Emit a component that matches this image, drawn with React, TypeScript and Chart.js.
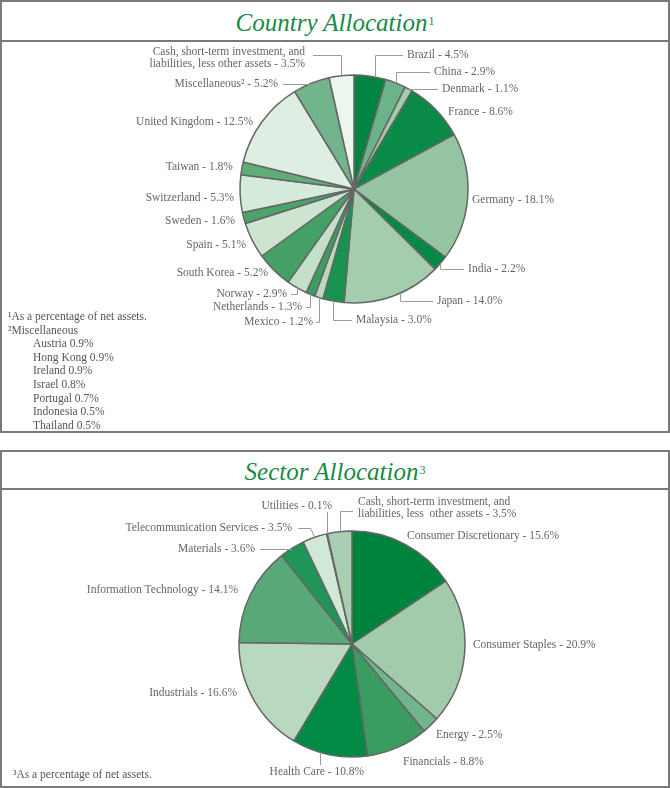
import React, { useEffect, useRef } from "react";
import { Chart, registerables } from "chart.js";

Chart.register(...registerables);

// ---------- DATA ----------
const countryNames = [
  "Brazil", "China", "Denmark", "France", "Germany", "India", "Japan", "Malaysia",
  "Mexico", "Netherlands", "Norway", "South Korea", "Spain", "Sweden", "Switzerland",
  "Taiwan", "United Kingdom", "Miscellaneous\u00B2",
  "Cash, short-term investment, and\nliabilities, less other assets",
];
const countryValues = [4.5, 2.9, 1.1, 8.6, 18.1, 2.2, 14.0, 3.0, 1.2, 1.3, 2.9, 5.2, 5.1, 1.6, 5.3, 1.8, 12.5, 5.2, 3.5];
const countryColors = [
  "#00843f", "#6cb38a", "#a0cda9", "#0a8a47", "#94c4a1", "#008a45", "#a4cdad", "#18934f",
  "#b9d9bf", "#3d9d60", "#c4dfc9", "#44a065", "#cde4d1", "#4aa36a", "#d6eadb", "#5fae78",
  "#dfeee3", "#72b48c", "#edf5ef",
];

const sectorNames = [
  "Consumer Discretionary", "Consumer Staples", "Energy", "Financials", "Health Care",
  "Industrials", "Information Technology", "Materials", "Telecommunication Services",
  "Utilities", "Cash, short-term investment, and\nliabilities, less  other assets",
];
const sectorValues = [15.6, 20.9, 2.5, 8.8, 10.8, 16.6, 14.1, 3.6, 3.5, 0.1, 3.5];
const sectorColors = [
  "#00843d", "#a2cbac", "#72b48c", "#3a9c60", "#008a44", "#b8d9c0", "#58a977",
  "#1f9658", "#d2e8d7", "#e8f2ea", "#a8cfb2",
];

const miscItems = [
  "Austria 0.9%", "Hong Kong 0.9%", "Ireland 0.9%", "Israel 0.8%",
  "Portugal 0.7%", "Indonesia 0.5%", "Thailand 0.5%",
];

// ---------- LABEL LAYOUT (offsets from each slice's outer midpoint) ----------
type Lay = {
  dx: number; dy: number; align: "left" | "right" | "center";
  leader?: "v" | "h" | "d" | "t"; shift?: number; ly?: number; gap?: number;
};

const countryLayout: Lay[] = [
  { dx: 32, dy: -22, align: "left", leader: "v", shift: 2.5 },
  { dx: 38.4, dy: -11, align: "left", leader: "v" },
  { dx: 33.4, dy: 0, align: "left", leader: "h" },
  { dx: 12, dy: 2, align: "left" },
  { dx: 4.3, dy: 3, align: "left" },
  { dx: 27.6, dy: 5.7, align: "left", leader: "v" },
  { dx: 37, dy: 7.7, align: "left", leader: "v", shift: -3.6 },
  { dx: 22.7, dy: 19, align: "left", leader: "v" },
  { dx: -5.8, dy: 24.6, align: "right", leader: "v", gap: 3 },
  { dx: -8.4, dy: 12.7, align: "right", leader: "v" },
  { dx: -9.9, dy: 6.3, align: "right", leader: "v" },
  { dx: -5.9, dy: 2.9, align: "right" },
  { dx: -6.3, dy: 4.6, align: "right" },
  { dx: -8.8, dy: 3, align: "right" },
  { dx: -6, dy: 4.3, align: "right" },
  { dx: -9, dy: -1.3, align: "right" },
  { dx: -9, dy: 0.3, align: "right" },
  { dx: -33.4, dy: 0.7, align: "right", leader: "h", gap: 5 },
  { dx: -36.5, dy: -17.7, align: "right", leader: "v", ly: -3, gap: 8 },
];

const sectorLayout: Lay[] = [
  { dx: 1.8, dy: -8.3, align: "left" },
  { dx: 8.2, dy: -6.4, align: "left" },
  { dx: 5.4, dy: 9.9, align: "left" },
  { dx: 5.5, dy: 14.6, align: "left" },
  { dx: -3, dy: 19.7, align: "center", leader: "t", shift: 5 },
  { dx: -16.3, dy: -6.1, align: "right" },
  { dx: -12.5, dy: -4.3, align: "right" },
  { dx: -37, dy: 0.8, align: "right", leader: "h", gap: 5 },
  { dx: -22.7, dy: -9.3, align: "right", leader: "d", gap: 6 },
  { dx: 5, dy: -27.8, align: "right", leader: "t" },
  { dx: 18.4, dy: -23.7, align: "left", leader: "v", ly: 3, gap: 5 },
];

const LABEL_FONT = '11.5px "Liberation Serif", "Times New Roman", serif';
const LABEL_COLOR = "#666666";
const LEADER_COLOR = "#9a9a9a";
const GREEN = "#1a8a46";
const SERIF = '"Liberation Serif", "Times New Roman", serif';

function makeLabelPlugin(names: string[], values: number[], layout: Lay[]) {
  return {
    id: "outLabels",
    afterDraw(chart: any) {
      const ctx: CanvasRenderingContext2D = chart.ctx;
      const meta = chart.getDatasetMeta(0);
      ctx.save();
      ctx.font = LABEL_FONT;
      ctx.textBaseline = "middle";
      meta.data.forEach((arc: any, i: number) => {
        const L = layout[i];
        if (!L) return;
        const { x, y, startAngle, endAngle, outerRadius } = arc;
        const a = (startAngle + endAngle) / 2 + ((L.shift || 0) * Math.PI) / 180;
        const ax = x + Math.cos(a) * outerRadius;
        const ay = y + Math.sin(a) * outerRadius;
        const lx = ax + L.dx;
        const lyc = ay + L.dy;
        const gap = L.gap ?? 4;
        const endX = L.align === "left" ? lx - gap : lx + gap;
        const yl = lyc + (L.ly || 0);
        const r = (v: number) => Math.round(v) + 0.5;
        if (L.leader) {
          ctx.strokeStyle = LEADER_COLOR;
          ctx.lineWidth = 1;
          ctx.beginPath();
          if (L.leader === "v") {
            ctx.moveTo(r(ax), ay);
            ctx.lineTo(r(ax), r(yl));
            ctx.lineTo(endX, r(yl));
          } else if (L.leader === "h") {
            ctx.moveTo(ax, r(yl));
            ctx.lineTo(endX, r(yl));
          } else if (L.leader === "d") {
            ctx.moveTo(ax, ay);
            ctx.lineTo(ax - 4, r(yl));
            ctx.lineTo(endX, r(yl));
          } else if (L.leader === "t") {
            ctx.moveTo(r(ax), ay);
            ctx.lineTo(r(ax), lyc + (ay > lyc ? 6 : -7));
          }
          ctx.stroke();
        }
        const lines = (names[i] + " - " + values[i].toFixed(1) + "%").split("\n");
        const lh = 12;
        ctx.fillStyle = LABEL_COLOR;
        ctx.textAlign = L.align;
        lines.forEach((t, k) => {
          ctx.fillText(t, lx, lyc - ((lines.length - 1) * lh) / 2 + k * lh);
        });
      });
      ctx.restore();
    },
  };
}

type PieProps = {
  names: string[]; values: number[]; colors: string[]; layout: Lay[];
  width: number; height: number; cx: number; cy: number; radius: number;
  style: React.CSSProperties;
};

function PieCanvas(p: PieProps) {
  const ref = useRef<HTMLCanvasElement | null>(null);
  useEffect(() => {
    if (!ref.current) return;
    const box = 130;
    const chart = new Chart(ref.current, {
      type: "pie",
      data: {
        labels: p.names,
        datasets: [
          {
            data: p.values,
            backgroundColor: p.colors,
            borderColor: "#666666",
            borderWidth: 1.5,
            radius: p.radius,
          } as any,
        ],
      },
      options: {
        responsive: false,
        animation: false,
        devicePixelRatio: 1,
        layout: {
          padding: {
            left: p.cx - box,
            right: p.width - p.cx - box,
            top: p.cy - box,
            bottom: p.height - p.cy - box,
          },
        },
        plugins: {
          legend: { display: false },
          tooltip: { enabled: false },
          title: { display: false },
        },
      },
      plugins: [makeLabelPlugin(p.names, p.values, p.layout)],
    });
    return () => chart.destroy();
  }, []);
  return <canvas ref={ref} width={p.width} height={p.height} style={p.style} />;
}

const BORDER = "2px solid #7a7a7a";

function Title({ text, sup, top, height }: { text: string; sup: string; top: number; height: number }) {
  return (
    <div
      style={{
        position: "absolute", left: 0, top, width: 670, height,
        boxSizing: "border-box", borderLeft: BORDER, borderRight: BORDER, borderTop: BORDER,
        borderBottom: BORDER, textAlign: "center", fontFamily: SERIF, color: GREEN,
        fontStyle: "italic", fontSize: 25, lineHeight: height - 4 + "px",
      }}
    >
      {text}
      <span style={{ fontStyle: "normal", fontSize: 12, verticalAlign: "6px", marginLeft: 1 }}>{sup}</span>
    </div>
  );
}

export default function App() {
  const noteStyle: React.CSSProperties = {
    position: "absolute", fontFamily: SERIF, fontSize: 11.5, color: "#555555",
    lineHeight: "13.6px", whiteSpace: "nowrap",
  };
  return (
    <div style={{ position: "absolute", left: 0, top: 0, width: 670, height: 788, background: "#ffffff" }}>
      {/* Country panel */}
      <Title text="Country Allocation" sup="1" top={0} height={42} />
      <div style={{ position: "absolute", left: 0, top: 40, width: 670, height: 393, boxSizing: "border-box", border: BORDER }} />
      <PieCanvas
        names={countryNames} values={countryValues} colors={countryColors} layout={countryLayout}
        width={666} height={389} cx={352} cy={147} radius={114}
        style={{ position: "absolute", left: 2, top: 42 }}
      />
      <div style={{ ...noteStyle, left: 8, top: 310 }}>
        <div>{"\u00B9As a percentage of net assets."}</div>
        <div>{"\u00B2Miscellaneous"}</div>
        {miscItems.map((m) => (
          <div key={m} style={{ paddingLeft: 25 }}>{m}</div>
        ))}
      </div>

      {/* Sector panel */}
      <Title text="Sector Allocation" sup="3" top={450} height={40} />
      <div style={{ position: "absolute", left: 0, top: 488, width: 670, height: 300, boxSizing: "border-box", border: BORDER }} />
      <PieCanvas
        names={sectorNames} values={sectorValues} colors={sectorColors} layout={sectorLayout}
        width={666} height={296} cx={350} cy={154} radius={113}
        style={{ position: "absolute", left: 2, top: 490 }}
      />
      <div style={{ ...noteStyle, left: 13, top: 768 }}>{"\u00B3As a percentage of net assets."}</div>
    </div>
  );
}
